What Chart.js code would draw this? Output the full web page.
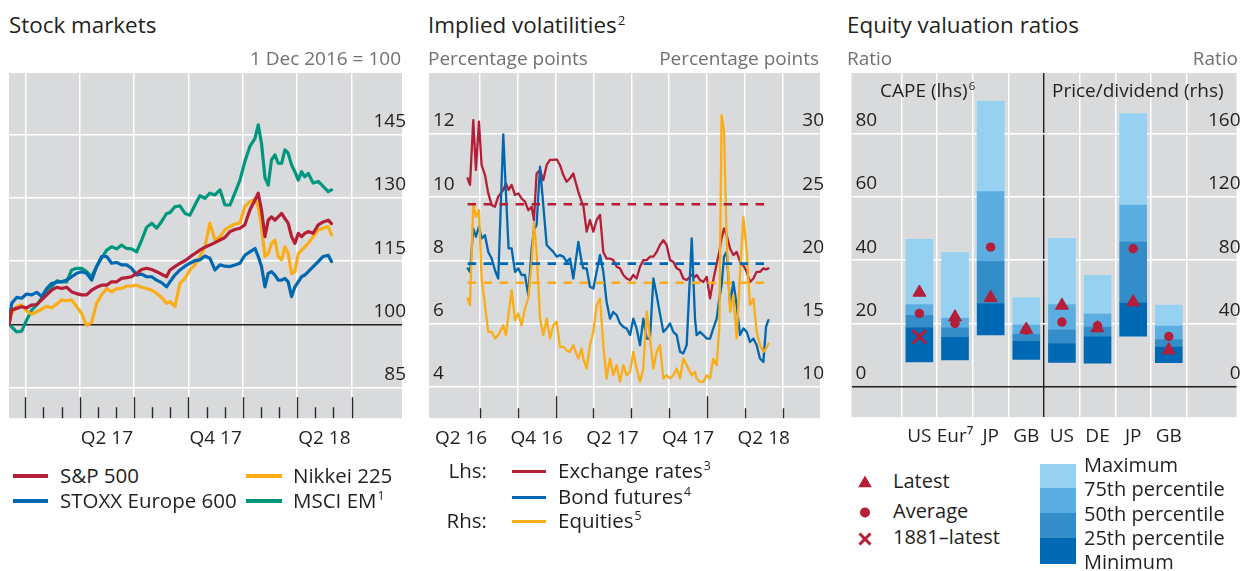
<!DOCTYPE html>
<html><head><meta charset="utf-8">
<title>Stock markets, implied volatilities and equity valuation ratios</title>
<script src="https://cdn.jsdelivr.net/npm/chart.js@4.4.1/dist/chart.umd.min.js"></script>
<style>
html,body{margin:0;padding:0;background:#fff}
body{width:1241px;height:571px;position:relative;overflow:hidden;font-family:'Open Sans',sans-serif;color:#231f20}
canvas{position:absolute}
.t{position:absolute;white-space:nowrap;line-height:1}
.sup{font-size:0.6em;position:relative;top:-0.62em;margin-left:1px}
.sw{position:absolute}
</style></head><body>
<canvas id="c1" width="401" height="406" style="left:9px;top:53px"></canvas>
<canvas id="c2" width="407" height="406" style="left:421px;top:53px"></canvas>
<canvas id="c3" width="410" height="403" style="left:839px;top:53px"></canvas>
<div id="overlay"></div>
<script>
// ================= DATA =================
// Panel 1: Stock markets (1 Dec 2016 = 100); x = months after 1 Dec 2016
const smMonths = [0.10,0.25,0.52,0.80,1.07,1.35,1.63,1.90,2.18,2.45,2.73,3.00,3.28,3.56,3.83,4.11,4.38,4.66,4.93,5.21,5.49,5.76,6.04,6.31,6.59,6.86,7.14,7.42,7.69,7.97,8.24,8.52,8.79,8.98,9.25,9.53,9.81,10.08,10.36,10.63,10.91,11.18,11.46,11.74,12.01,12.29,12.56,12.84,13.11,13.39,13.67,13.85,14.03,14.22,14.40,14.58,14.77,14.95,15.14,15.32,15.50,15.69,15.87,16.06,16.24,16.42,16.61,16.88,17.16,17.43,17.71,17.89];
const sp500 = [100.0,103.4,103.8,104.2,103.9,104.6,104.7,105.8,107.0,108.1,108.8,108.5,108.8,107.7,107.3,107.0,107.0,108.1,108.8,109.3,109.3,110.1,110.1,110.9,111.1,
  111.3,112.1,113.0,113.3,113.0,112.5,111.9,111.3,112.9,113.7,114.5,115.1,116.0,116.8,117.6,118.3,118.8,119.4,120.0,120.6,122.0,122.5,122.8,
  123.6,127.1,129.5,131.1,127.1,120.8,124.7,125.5,124.7,125.5,126.3,125.1,124.0,120.8,119.2,121.6,120.8,121.6,122.0,121.6,123.6,124.3,124.7,123.9];
const stoxx600 = [100.0,105.0,106.4,106.2,107.2,107.0,107.6,106.6,108.5,109.7,110.0,110.1,110.5,111.3,112.1,112.5,112.1,110.5,113.7,116.1,116.1,114.5,114.7,114.1,114.1,
  113.3,111.7,111.9,111.3,111.3,110.5,109.9,108.9,110.1,111.7,112.9,113.8,114.5,115.1,115.3,116.2,115.7,112.9,114.1,113.8,113.7,114.1,114.5,
  116.4,117.2,118.0,116.1,113.7,108.9,112.1,112.5,111.7,110.5,110.5,110.9,110.1,106.6,108.9,110.1,111.3,111.7,112.5,113.7,114.9,116.1,116.4,114.9];
const nikkei225 = [100.0,102.6,104.3,104.6,103.2,102.4,103.0,103.6,104.3,103.9,104.8,105.8,105.6,105.8,104.2,102.6,99.7,100.5,105.0,107.0,108.5,107.7,108.5,108.5,109.1,
  109.1,109.3,108.8,108.5,108.1,107.4,106.4,105.0,105.4,104.2,109.7,110.9,112.9,114.1,116.0,118.4,124.0,120.0,120.8,122.4,123.2,123.8,124.0,
  127.9,129.1,129.7,127.9,123.2,116.1,116.8,119.2,120.0,116.1,115.3,118.4,116.8,112.0,112.5,116.8,117.6,118.4,119.2,120.8,122.4,122.8,123.2,121.2];
const msciEM = [100.0,99.4,98.2,98.4,101.0,103.4,104.6,106.2,107.7,108.9,110.3,110.1,110.1,112.9,113.3,113.3,112.5,111.3,113.7,115.7,117.6,118.4,117.9,118.8,118.0,
  117.9,117.2,120.0,123.0,124.0,122.8,124.4,126.3,126.5,127.9,128.1,126.3,125.9,128.3,130.5,129.9,131.1,130.7,131.9,128.3,128.3,131.1,134.2,
  138.6,142.2,144.1,147.3,142.9,134.8,133.0,139.0,140.2,138.2,138.2,141.4,140.6,137.8,136.2,134.2,136.2,135.0,135.8,133.5,133.9,132.7,131.5,131.9];
const smYTicks = [85,100,115,130,145];
const smGridMonths = [1,4,7,10,13,16,19];
const smTickMonths = [1,2,3,4,5,6,7,8,9,10,11,12,13,14,15,16,17,18,19];
const smXLabelPos = [5.5,11.5,17.5];
const smXLabelText = ['Q2 17','Q4 17','Q2 18'];

// Panel 2: Implied volatilities; x = months after 1 Jan 2016
const ivMonths = [5.02,5.21,5.47,5.68,5.92,6.13,6.40,6.66,6.93,7.19,
  7.45,7.85,8.06,8.27,8.51,8.78,9.04,9.30,9.57,9.83,
  10.10,10.28,10.49,10.76,11.02,11.29,11.55,11.82,12.08,12.34,
  12.61,12.87,13.14,13.40,13.80,14.06,14.19,14.46,14.72,14.99,
  15.25,15.52,15.78,16.04,16.31,16.57,16.84,17.10,17.37,17.63,
  17.90,18.16,18.42,18.69,18.95,19.22,19.48,19.75,20.01,20.27,
  20.54,20.80,21.07,21.33,21.60,21.86,22.12,22.39,22.79,23.05,
  23.18,23.45,23.71,23.98,24.24,24.50,24.77,24.98,25.16,25.35,
  25.56,25.83,26.09,26.35,26.62,26.88,27.15,27.41,27.68,27.94,
  28.20,28.47,28.68,28.87];
const fxVol = [10.60,10.39,12.44,10.86,12.39,11.02,10.70,10.12,9.75,9.70,
  10.02,10.23,10.44,10.23,10.39,10.07,10.12,9.96,9.86,9.59,
  9.70,9.28,10.75,10.86,10.54,11.02,11.18,11.18,11.20,11.02,
  10.70,10.49,10.60,10.75,10.17,9.86,9.75,8.91,9.28,8.91,
  9.28,9.44,8.27,8.06,8.06,8.01,7.80,7.75,7.54,7.43,
  7.38,7.54,7.43,7.80,8.01,8.01,8.12,8.12,8.27,8.49,
  8.64,8.49,8.01,7.96,7.75,7.69,7.43,7.38,7.54,7.48,
  7.54,7.38,7.32,7.48,6.80,7.38,7.90,8.27,8.70,9.01,
  8.80,8.38,8.17,8.27,7.96,7.85,7.64,7.32,7.43,7.64,
  7.64,7.75,7.72,7.75];
const bondVol = [7.75,7.64,9.01,8.75,9.07,8.70,8.80,8.27,8.06,7.69,
  7.43,11.99,10.12,8.38,8.38,7.64,7.75,7.54,7.54,6.90,
  8.38,8.96,9.12,10.97,9.75,8.49,8.38,8.27,8.12,8.17,
  8.12,7.96,8.06,7.43,8.59,7.96,7.75,7.75,7.17,7.11,
  7.64,8.17,7.64,6.69,6.16,6.37,6.27,6.01,5.90,5.85,
  5.64,6.16,5.85,5.32,6.16,5.53,5.53,7.43,6.90,6.32,
  5.74,5.85,6.01,5.74,5.64,5.11,5.06,5.32,8.70,6.16,
  5.64,5.74,5.64,5.53,5.53,5.85,6.16,6.80,7.22,8.12,
  8.27,6.59,7.32,6.59,5.64,5.85,5.74,5.42,5.53,5.32,
  4.90,4.79,5.90,6.11];
const eqVol = [16.99,16.46,24.51,23.46,23.98,18.58,16.46,14.35,14.35,13.83,
  14.09,14.88,14.09,15.80,17.65,15.28,15.80,14.88,16.20,16.99,
  19.76,23.00,20.69,15.41,14.09,15.41,13.83,14.88,15.15,13.17,
  13.17,12.90,12.77,13.30,12.24,13.03,12.24,11.45,13.30,14.35,
  16.46,16.99,13.30,10.66,12.24,10.92,11.72,10.40,11.72,10.92,
  11.19,12.77,11.45,10.40,11.45,15.94,13.83,11.45,12.77,13.30,
  10.66,10.92,10.66,10.92,11.45,10.66,12.24,11.72,10.92,11.19,
  10.66,10.40,10.40,10.92,10.66,12.24,11.72,14.75,31.50,30.32,
  21.74,15.94,17.26,13.83,18.97,23.46,20.69,16.46,16.99,14.35,
  13.30,12.77,13.03,13.43];
const fxAvg = 9.78, bondAvg = 7.90, eqAvg = 18.23;
const ivLeftTicks = [4,6,8,10,12];
const ivRightTicks = [10,15,20,25,30];
const ivGridMonths = [6,9,12,15,18,21,24,27,30];
const ivMajorMonths = [12,24];
const ivXLabelPos = [4.5,10.5,16.5,22.5,28.5];
const ivXLabelText = ['Q2 16','Q4 16','Q2 17','Q4 17','Q2 18'];

// Panel 3: Equity valuation ratios
const valCats = ['US','Eur\u2077','JP','GB','US','DE','JP','GB'];
const capeMin = [7.9,8.5,16.4,8.7];
const cape25  = [18.6,15.6,26.2,14.4];
const cape50  = [22.6,18.6,39.5,16.6];
const cape75  = [26.0,21.7,61.6,19.5];
const capeMax = [46.6,42.4,90.2,28.2];
const capeLatest = [29.8,22.0,28.1,18.1];
const capeAverage = [23.2,20.0,44.1,17.9];
const cape1881 = [15.8];
const pdMin = [15.4,15.0,32.0,15.2];
const pd25  = [27.2,31.6,52.9,25.1];
const pd50  = [35.8,37.7,91.4,29.9];
const pd75  = [52.0,45.9,114.8,38.3];
const pdMax = [93.7,70.4,172.5,51.6];
const pdLatest = [51.4,37.1,53.5,23.2];
const pdAverage = [40.9,38.5,87.2,31.8];
const valLeftTicks = [0,20,40,60,80];
const valRightTicks = [0,40,80,120,160];

// ================= STYLE =================
const RED='#b41e37', BLUE='#0068b1', ORANGE='#fbad18', GREEN='#00977f';
const BG='#d9dadb', GRID='#ffffff', DARK='#231f20', NONE='rgba(0,0,0,0)';
const SEG=['#0069b4','#338dc9','#5caee1','#96d1f1'];
Chart.defaults.font.family="'Open Sans', sans-serif";
Chart.defaults.color=DARK;

const bgPlugin={id:'bgPlugin',beforeDraw(chart){const {ctx,chartArea:a}=chart;ctx.save();ctx.fillStyle=BG;ctx.fillRect(a.left,a.top,a.right-a.left,a.bottom-a.top);ctx.restore();}};
const bottomTicks={id:'bottomTicks',afterDatasetsDraw(chart,args,o){
  if(!o||!o.values)return;const {ctx,chartArea:a}=chart;const sx=chart.scales.x;
  ctx.save();ctx.strokeStyle='#2a2a2a';ctx.lineWidth=1.4;
  o.values.forEach(v=>{const x=Math.round(sx.getPixelForValue(v))+0.5;const len=o.major.includes(v)?o.long:o.short;
    ctx.beginPath();ctx.moveTo(x,a.bottom);ctx.lineTo(x,a.bottom-len);ctx.stroke();});
  ctx.restore();}};

function lineDs(label,xs,ys,color,w,order,axis,dash){
  return {type:'line',label,data:xs.map((x,i)=>({x,y:ys[i]})),borderColor:color,backgroundColor:color,
    borderWidth:w,pointRadius:0,tension:0,order,yAxisID:axis||'y',borderDash:dash||[],
    borderJoinStyle:'round',borderCapStyle:dash?'butt':'round',fill:false};
}
function xAxis(min,max,gridVals,labelPos,labelText,pad,gridColor,gridWidth){
  const vals=[...new Set([...gridVals,...labelPos])].sort((a,b)=>a-b);
  return {type:'linear',position:'bottom',min,max,offset:false,
    afterBuildTicks:s=>{s.ticks=vals.map(v=>({value:v}));},
    border:{display:false},
    grid:{drawTicks:false,offset:false,color:gridColor||(c=>gridVals.includes(c.tick.value)?GRID:NONE),lineWidth:gridWidth||1.5},
    ticks:{autoSkip:false,maxRotation:0,minRotation:0,padding:pad,font:{size:19},color:DARK,
      callback:v=>{const i=labelPos.indexOf(v);return i>=0?labelText[i]:'';}}};
}
function yAxis(pos,min,max,tickVals,gridColor,showGrid){
  return {type:'linear',position:pos,min,max,
    afterBuildTicks:s=>{s.ticks=tickVals.map(v=>({value:v}));},
    border:{display:false},
    grid:{display:showGrid!==false,drawTicks:false,color:gridColor||GRID,lineWidth:c=>(c.tick&&gridColor&&gridColor(c)===DARK)?1.4:1.5},
    ticks:{mirror:true,padding:4,labelOffset:-13,font:{size:19},color:DARK,z:1}};
}
const baseOpts={responsive:false,devicePixelRatio:1,animation:false,events:[],
  layout:{padding:{top:20,left:0,right:0,bottom:0}}};

// ---------- Panel 1 ----------
new Chart(document.getElementById('c1'),{
  type:'line',
  data:{datasets:[
    lineDs('S&P 500',smMonths,sp500,RED,3.2,0),
    lineDs('STOXX Europe 600',smMonths,stoxx600,BLUE,3.2,1),
    lineDs('Nikkei 225',smMonths,nikkei225,ORANGE,3.2,2),
    lineDs('MSCI EM',smMonths,msciEM,GREEN,3.2,3)]},
  options:Object.assign({},baseOpts,{
    plugins:{legend:{display:false},tooltip:{enabled:false},
      bottomTicks:{values:smTickMonths,major:smGridMonths,long:21,short:11}},
    scales:{
      x:xAxis(0.10,21.78,smGridMonths,smXLabelPos,smXLabelText,9),
      y:yAxis('right',77.76,159.6,smYTicks,c=>c.tick.value===100?DARK:GRID)}}),
  plugins:[bgPlugin,bottomTicks]});

// ---------- Panel 2 ----------
const ivFirst=ivMonths[0], ivLast=ivMonths[ivMonths.length-1];
new Chart(document.getElementById('c2'),{
  type:'line',
  data:{datasets:[
    lineDs('Exchange rates avg',[ivFirst,ivLast],[fxAvg,fxAvg],RED,2.6,0,'y',[8.5,7.5]),
    lineDs('Bond futures avg',[ivFirst,ivLast],[bondAvg,bondAvg],BLUE,2.6,0,'y',[8.5,7.5]),
    lineDs('Equities avg',[ivFirst,ivLast],[eqAvg,eqAvg],ORANGE,2.6,0,'y2',[8.5,7.5]),
    lineDs('Equities',ivMonths,eqVol,ORANGE,2.3,1,'y2'),
    lineDs('Bond futures',ivMonths,bondVol,BLUE,2.3,2,'y'),
    lineDs('Exchange rates',ivMonths,fxVol,RED,2.3,3,'y')]},
  options:Object.assign({},baseOpts,{
    plugins:{legend:{display:false},tooltip:{enabled:false},
      bottomTicks:{values:ivGridMonths,major:ivMajorMonths,long:22,short:10}},
    scales:{
      x:xAxis(1.96,32.96,ivGridMonths,ivXLabelPos,ivXLabelText,9),
      y:yAxis('left',3.01,13.93,ivLeftTicks),
      y2:yAxis('right',7.52,34.83,ivRightTicks,null,false)}}),
  plugins:[bgPlugin,bottomTicks]});

// ---------- Panel 3 ----------
const capeBounds=[capeMin,cape25,cape50,cape75,capeMax];
const pdBounds=[pdMin,pd25,pd50,pd75,pdMax];
const vDs=[];
vDs.push({type:'scatter',label:'1881–latest',data:cape1881.map((v,i)=>({x:i,y:v})),pointStyle:'crossRot',pointRadius:9.5,borderWidth:3,borderColor:RED,backgroundColor:RED,yAxisID:'y',order:0});
vDs.push({type:'scatter',label:'Latest',data:capeLatest.map((v,i)=>({x:i,y:v})),pointStyle:'triangle',pointRadius:7.5,borderWidth:1,borderColor:RED,backgroundColor:RED,yAxisID:'y',order:0});
vDs.push({type:'scatter',label:'Latest',data:pdLatest.map((v,i)=>({x:i+4,y:v})),pointStyle:'triangle',pointRadius:7.5,borderWidth:1,borderColor:RED,backgroundColor:RED,yAxisID:'y2',order:0});
vDs.push({type:'scatter',label:'Average',data:capeAverage.map((v,i)=>({x:i,y:v})),pointStyle:'circle',pointRadius:4.7,borderWidth:0,borderColor:RED,backgroundColor:RED,yAxisID:'y',order:0});
vDs.push({type:'scatter',label:'Average',data:pdAverage.map((v,i)=>({x:i+4,y:v})),pointStyle:'circle',pointRadius:4.7,borderWidth:0,borderColor:RED,backgroundColor:RED,yAxisID:'y2',order:0});
for(let k=0;k<4;k++){
  vDs.push({type:'bar',label:'CAPE band '+k,data:capeMin.map((_,i)=>({x:i,y:[capeBounds[k][i],capeBounds[k+1][i]]})),
    backgroundColor:SEG[k],borderWidth:0,barThickness:27,grouped:false,yAxisID:'y',order:5});
  vDs.push({type:'bar',label:'P/D band '+k,data:pdMin.map((_,i)=>({x:i+4,y:[pdBounds[k][i],pdBounds[k+1][i]]})),
    backgroundColor:SEG[k],borderWidth:0,barThickness:27,grouped:false,yAxisID:'y2',order:5});
}
const valGrid=[-0.5,0.5,1.5,2.5,3.5,4.5,5.5,6.5,7.5];
const valLabelPos=[0,1,2,3,4,5,6,7];
const vx=xAxis(-1.905,8.90,valGrid,valLabelPos,valCats,8,
  c=>c.tick.value===3.5?DARK:(valGrid.includes(c.tick.value)?GRID:NONE),
  c=>c.tick.value===3.5?1.4:1.5);
new Chart(document.getElementById('c3'),{
  type:'bar',
  data:{datasets:vDs},
  options:Object.assign({},baseOpts,{
    plugins:{legend:{display:false},tooltip:{enabled:false}},
    scales:{
      x:vx,
      y:yAxis('left',-9.57,99.05,valLeftTicks,c=>c.tick.value===0?DARK:GRID),
      y2:yAxis('right',-19.14,198.1,valRightTicks,null,false)}}),
  plugins:[bgPlugin]});

// ================= TEXT & LEGENDS =================
const GRAY='#6f7072';
const texts=[
  // [html, x, centerY, size, align, color]
  ['Stock markets',9,26,22.4,'l',DARK],
  ['1 Dec 2016 = 100',401,59,19,'r',GRAY],
  ['Implied volatilities<span class="sup">2</span>',428,26,22.4,'l',DARK],
  ['Percentage points',428,59,19,'l',GRAY],
  ['Percentage points',819,59,19,'r',GRAY],
  ['Equity valuation ratios',847,26,22.4,'l',DARK],
  ['Ratio',847,59,19,'l',GRAY],
  ['Ratio',1238,59,19,'r',GRAY],
  ['CAPE (lhs)<span class="sup">6</span>',880,91,19,'l',DARK],
  ['Price/dividend (rhs)',1052,91,19,'l',DARK],
  ['S&amp;P 500',60,476,20.5,'l',DARK],
  ['STOXX Europe 600',60,501,20.5,'l',DARK],
  ['Nikkei 225',293,476,20.5,'l',DARK],
  ['MSCI EM<span class="sup">1</span>',293,501,20.5,'l',DARK],
  ['Lhs:',487,471,20.5,'r',DARK],
  ['Exchange rates<span class="sup">3</span>',558,471,20.5,'l',DARK],
  ['Bond futures<span class="sup">4</span>',558,497,20.5,'l',DARK],
  ['Rhs:',487,521,20.5,'r',DARK],
  ['Equities<span class="sup">5</span>',558,521,20.5,'l',DARK],
  ['Latest',893,482,20,'l',DARK],
  ['Average',893,512,20,'l',DARK],
  ['1881–latest',893,538,20,'l',DARK],
  ['Maximum',1084,466,20,'l',DARK],
  ['75th percentile',1084,490,20,'l',DARK],
  ['50th percentile',1084,515,20,'l',DARK],
  ['25th percentile',1084,539,20,'l',DARK],
  ['Minimum',1084,563,20,'l',DARK]
];
const ov=document.getElementById('overlay');
let html='';
texts.forEach(([h,x,cy,s,al,col])=>{
  const top=(cy-0.53*s).toFixed(1);
  const pos=al==='r'?`right:${1241-x}px`:`left:${x}px`;
  html+=`<div class="t" style="${pos};top:${top}px;font-size:${s}px;color:${col}">${h}</div>`;
});
// line swatches
const swatches=[[13,476,35,4,RED],[13,501,35,4,BLUE],[246,476,36,4,ORANGE],[246,501,36,4,GREEN],
  [512,471,34,3,RED],[512,497,34,3,BLUE],[512,521,34,3,ORANGE]];
swatches.forEach(([x,cy,w,h,c])=>{html+=`<div class="sw" style="left:${x}px;top:${cy-h/2}px;width:${w}px;height:${h}px;background:${c}"></div>`;});
// percentile block
const bands=[[464,488,SEG[3]],[488,513,SEG[2]],[513,538,SEG[1]],[538,564,SEG[0]]];
bands.forEach(([t,b,c])=>{html+=`<div class="sw" style="left:1040px;top:${t}px;width:36px;height:${b-t}px;background:${c}"></div>`;});
// marker symbols
html+=`<svg class="sw" style="left:850px;top:466px" width="32" height="84" viewBox="0 0 32 84">
<polygon points="15,9.5 21.8,21.3 8.2,21.3" fill="${RED}"/>
<circle cx="15" cy="46.5" r="5" fill="${RED}"/>
<line x1="9.5" y1="67.5" x2="20.5" y2="78.5" stroke="${RED}" stroke-width="3"/>
<line x1="20.5" y1="67.5" x2="9.5" y2="78.5" stroke="${RED}" stroke-width="3"/></svg>`;
ov.innerHTML=html;
</script>
</body></html>
